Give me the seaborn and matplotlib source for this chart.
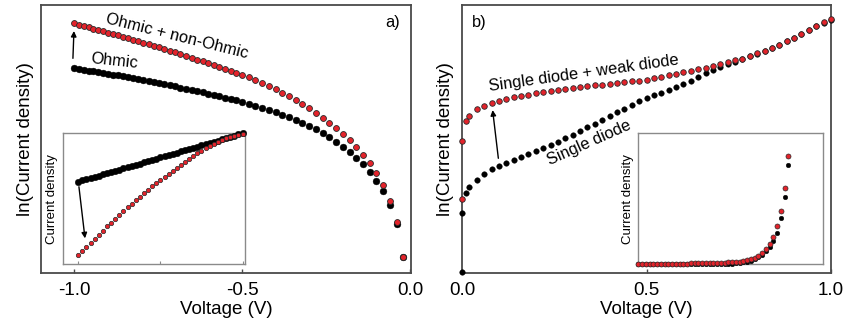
import matplotlib
matplotlib.use("Agg")
import matplotlib.pyplot as plt
import seaborn as sns
from matplotlib.ticker import FormatStrFormatter

# ---------------- data (y in arbitrary units) ----------------
left_voltage = [-1.000, -0.9855, -0.971, -0.9565, -0.942, -0.9275, -0.913, -0.8985, -0.884, -0.8695, -0.855,
                -0.8395, -0.824, -0.8085, -0.793, -0.7775, -0.762, -0.7465, -0.731, -0.7155, -0.700,
                -0.683, -0.667, -0.650, -0.633, -0.617, -0.600, -0.583, -0.567, -0.550, -0.533, -0.517, -0.500,
                -0.48, -0.46, -0.44, -0.42, -0.40, -0.38, -0.36, -0.34, -0.32, -0.30, -0.28, -0.26,
                -0.24, -0.22, -0.20, -0.18, -0.16, -0.14, -0.12, -0.10, -0.08, -0.06, -0.04, -0.02]
left_ohmic = [0.7640, 0.7612, 0.7584, 0.7555, 0.7526, 0.7496, 0.7466, 0.7435, 0.7403, 0.7372, 0.7339,
              0.7304, 0.7268, 0.7232, 0.7195, 0.7158, 0.7120, 0.7081, 0.7042, 0.7002, 0.6962,
              0.6917, 0.6874, 0.6828, 0.6781, 0.6736, 0.6688, 0.6639, 0.6592, 0.6542, 0.6491, 0.6442, 0.6390,
              0.632, 0.624, 0.616, 0.608, 0.600, 0.591, 0.582, 0.572, 0.561, 0.549, 0.536, 0.522,
              0.506, 0.490, 0.472, 0.452, 0.430, 0.406, 0.378, 0.345, 0.305, 0.254, 0.182, 0.059]
left_nonohmic = [0.9310, 0.9263, 0.9216, 0.9168, 0.9120, 0.9071, 0.9022, 0.8972, 0.8921, 0.8870, 0.8819,
                 0.8763, 0.8707, 0.8650, 0.8592, 0.8534, 0.8475, 0.8415, 0.8355, 0.8294, 0.8233,
                 0.8165, 0.8100, 0.8031, 0.7961, 0.7894, 0.7822, 0.7750, 0.7681, 0.7607, 0.7532, 0.7461, 0.7385,
                 0.730, 0.720, 0.709, 0.698, 0.686, 0.673, 0.660, 0.646, 0.631, 0.615, 0.598, 0.580,
                 0.561, 0.541, 0.519, 0.495, 0.469, 0.441, 0.409, 0.372, 0.328, 0.270, 0.189, 0.059]

right_voltage = [0.0, 0.001, 0.01,
                 0.02, 0.04, 0.06, 0.08, 0.10, 0.12, 0.14, 0.16, 0.18, 0.20, 0.22, 0.24, 0.26,
                 0.28, 0.30, 0.32, 0.34, 0.36, 0.38, 0.40, 0.42, 0.44, 0.46, 0.48, 0.50,
                 0.52, 0.54, 0.56, 0.58, 0.60, 0.62, 0.64, 0.66, 0.68, 0.70, 0.72, 0.74,
                 0.76, 0.78, 0.80, 0.82, 0.84, 0.86, 0.88, 0.90, 0.92, 0.94, 0.96, 0.98, 1.00]
right_single = [0.005, 0.223, 0.297,
                0.320, 0.347, 0.369, 0.387, 0.401, 0.412, 0.423, 0.433, 0.444, 0.455, 0.466, 0.477, 0.490,
                0.503, 0.516, 0.530, 0.543, 0.557, 0.571, 0.585, 0.599, 0.613, 0.627, 0.640, 0.654,
                0.663, 0.673, 0.684, 0.695, 0.706, 0.718, 0.731, 0.745, 0.757, 0.768, 0.779, 0.789,
                0.798, 0.808, 0.818, 0.828, 0.839, 0.850, 0.864, 0.876, 0.890, 0.905, 0.920, 0.933, 0.945]
right_weak = [0.276, 0.4925, 0.567,
              0.586, 0.611, 0.623, 0.634, 0.643, 0.650, 0.656, 0.661, 0.666, 0.670, 0.674, 0.678, 0.682,
              0.686, 0.690, 0.694, 0.697, 0.700, 0.703, 0.706, 0.709, 0.712, 0.715, 0.718, 0.721,
              0.726, 0.731, 0.737, 0.743, 0.750, 0.755, 0.760, 0.766, 0.772, 0.779, 0.786, 0.793,
              0.800, 0.810, 0.820, 0.830, 0.841, 0.852, 0.866, 0.878, 0.892, 0.907, 0.922, 0.935, 0.947]

inset_x = [0.0, 0.025, 0.05, 0.075, 0.1, 0.125, 0.15, 0.175, 0.2, 0.225,
           0.25, 0.275, 0.3, 0.325, 0.35, 0.375, 0.4, 0.425, 0.45, 0.475,
           0.5, 0.525, 0.55, 0.575, 0.6, 0.625, 0.65, 0.675, 0.7, 0.725,
           0.75, 0.775, 0.8, 0.825, 0.85, 0.875, 0.9, 0.925, 0.95, 0.975, 1.0]
inset_a_ohmic = [0.631, 0.640, 0.649, 0.659, 0.668, 0.677, 0.686, 0.696, 0.705, 0.714,
                 0.723, 0.733, 0.742, 0.751, 0.760, 0.769, 0.779, 0.788, 0.797, 0.806,
                 0.816, 0.825, 0.834, 0.843, 0.852, 0.862, 0.871, 0.880, 0.889, 0.899,
                 0.908, 0.917, 0.926, 0.936, 0.945, 0.954, 0.963, 0.972, 0.982, 0.991, 1.000]
inset_a_nonohmic = [0.071, 0.103, 0.134, 0.164, 0.196, 0.226, 0.257, 0.289, 0.318, 0.348,
                    0.377, 0.405, 0.434, 0.462, 0.490, 0.517, 0.544, 0.570, 0.596, 0.621,
                    0.645, 0.668, 0.690, 0.714, 0.737, 0.760, 0.782, 0.804, 0.825, 0.846,
                    0.866, 0.886, 0.905, 0.922, 0.937, 0.950, 0.962, 0.972, 0.981, 0.989, 0.996]
inset_b_single = [0.002, 0.002, 0.002, 0.002, 0.002, 0.002, 0.002, 0.002, 0.002, 0.002,
                  0.002, 0.002, 0.002, 0.002, 0.002, 0.002, 0.003, 0.003, 0.003, 0.003,
                  0.003, 0.003, 0.004, 0.004, 0.005, 0.006, 0.008, 0.010, 0.014, 0.019,
                  0.026, 0.037, 0.052, 0.072, 0.098, 0.132, 0.178, 0.237, 0.351, 0.517, 0.758]
inset_b_weak = [0.004, 0.004, 0.004, 0.004, 0.004, 0.005, 0.005, 0.005, 0.005, 0.005,
                0.005, 0.006, 0.006, 0.006, 0.007, 0.007, 0.008, 0.008, 0.009, 0.009,
                0.010, 0.011, 0.012, 0.013, 0.014, 0.016, 0.017, 0.020, 0.024, 0.030,
                0.038, 0.049, 0.065, 0.087, 0.116, 0.155, 0.212, 0.293, 0.407, 0.580, 0.827]

left_ticks = [-1.0, -0.5, 0.0]
right_ticks = [0.0, 0.5, 1.0]

# ---------------- style ----------------
sns.set_theme(style="white")
plt.rcParams["font.family"] = ["Liberation Sans", "DejaVu Sans"]
plt.rcParams["axes.unicode_minus"] = False

RED = "#e3232b"
EDGE = "#2a2a2a"
SPINE = "#4a4a4a"
INSET_SPINE = "#8a8a8a"

W, H = 844, 327
fig = plt.figure(figsize=(W / 100, H / 100), dpi=100)


def rect(l, t, r, b):
    return [l / W, 1 - b / H, (r - l) / W, (b - t) / H]


axA = fig.add_axes(rect(41, 5, 411, 273))
axB = fig.add_axes(rect(462, 5, 831, 273))
insA = fig.add_axes(rect(62.5, 133.3, 245, 264.3))
insB = fig.add_axes(rect(638.3, 133.3, 822.7, 264.3))


def black(ax, x, y, s):
    sns.scatterplot(x=x, y=y, ax=ax, s=s, color="black", edgecolor="black",
                    linewidth=0.3, clip_on=False, zorder=3, legend=False)


def red(ax, x, y, s, lw=0.6):
    sns.scatterplot(x=x, y=y, ax=ax, s=s, color=RED, edgecolor=EDGE,
                    linewidth=lw, clip_on=False, zorder=4, legend=False)


# main panels
black(axA, left_voltage, left_ohmic, 24)
red(axA, left_voltage, left_nonohmic, 18)
black(axB, right_voltage, right_single, 16)
red(axB, right_voltage, right_weak, 16)

for ax, xl, ticks in ((axA, (-1.098, 0.003), left_ticks), (axB, (0.0, 1.0), right_ticks)):
    ax.set_xlim(*xl)
    ax.set_ylim(0, 1)
    ax.set_xticks(ticks)
    ax.xaxis.set_major_formatter(FormatStrFormatter("%.1f"))
    ax.set_yticks([])
    ax.tick_params(axis="x", direction="in", length=3.2, width=1.0, color=SPINE,
                   pad=6.5, labelsize=13.5, labelcolor="black", bottom=True)
    for sp in ax.spines.values():
        sp.set_color(SPINE)
        sp.set_linewidth(1.3)
    ax.set_xlabel("Voltage (V)", fontsize=13.5, color="black")
    ax.set_ylabel("ln(Current density)", fontsize=13.5, color="black")
    ax.xaxis.set_label_coords(0.5, -0.105)
axA.yaxis.set_label_coords(-0.018, 0.5)
axB.yaxis.set_label_coords(-0.021, 0.5)

# insets
black(insA, inset_x, inset_a_ohmic, 22)
red(insA, inset_x, inset_a_nonohmic, 10, lw=0.5)
insA.set_xlim(-0.096, 1.015)
insA.set_ylim(0, 1)
insA.set_xticks([0.0, 0.5, 1.0])
insA.tick_params(axis="x", direction="in", length=2.5, width=0.8, color=INSET_SPINE,
                 labelbottom=False, bottom=True)
insA.set_yticks([])

black(insB, inset_x, inset_b_single, 11)
red(insB, inset_x, inset_b_weak, 13, lw=0.5)
insB.set_xlim(0, 1.229)
insB.set_ylim(0, 1)
insB.set_xticks([])
insB.set_yticks([])

for ins in (insA, insB):
    ins.set_facecolor("white")
    for sp in ins.spines.values():
        sp.set_color(INSET_SPINE)
        sp.set_linewidth(1.0)
    ins.set_xlabel("")
    ins.set_ylabel("Current density", fontsize=9.5, color="black", labelpad=3)

# arrows
arrow = dict(arrowstyle="-|>", color="black", lw=1.0, mutation_scale=8, shrinkA=0, shrinkB=0)
axA.annotate("", xy=(-1.0, 0.903), xytext=(-1.003, 0.801), arrowprops=arrow)
insA.annotate("", xy=(0.041, 0.198), xytext=(0.004, 0.592), arrowprops=arrow)
axB.annotate("", xy=(0.083, 0.608), xytext=(0.0985, 0.428), arrowprops=arrow)


def label(px, py, s, rot=0, size=11.8):
    fig.text(px / W, 1 - py / H, s, fontsize=size, rotation=rot, rotation_mode="anchor",
             ha="center", va="center", color="black")


label(177.3, 36.7, "Ohmic + non-Ohmic", rot=-14)
label(114, 60.7, "Ohmic", rot=-6)
label(393, 22.5, "a)")
label(479, 22.5, "b)")
label(584, 73.3, "Single diode + weak diode", rot=8)
label(589.3, 142.7, "Single diode", rot=24)

fig.savefig("out.png", dpi=100)
